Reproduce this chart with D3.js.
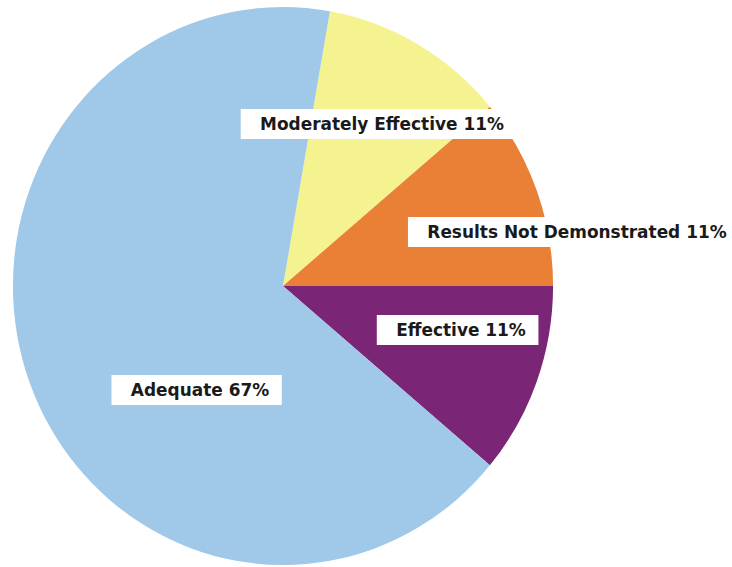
<!DOCTYPE html>
<html>
<head>
<meta charset="utf-8">
<script src="https://cdn.jsdelivr.net/npm/d3@7"></script>
<style>
  body { margin: 0; background: #fff; }
  svg { display: block; }
  .label text { font-family: "DejaVu Sans", Verdana, sans-serif; font-weight: bold; fill: #1a1a1a; }
</style>
</head>
<body>
<svg id="chart" width="732" height="567"></svg>
<script>
// slice order follows the picture, clockwise from just right of 12 o'clock
const categories = ["Moderately Effective", "Results Not Demonstrated", "Effective", "Adequate"];
const values = [1, 1, 1, 6];
const percentLabels = ["11%", "11%", "11%", "67%"];
const colors = ["#f5f290", "#ea8036", "#7b2577", "#a0c8e8"];

const width = 732, height = 567;
const cx = 283, cy = 286;
const radius = 279;
const squash = 0.968; // pie is slightly narrower than tall

// where each label box sits, relative to the pie centre
const labelPos = {
  "Moderately Effective": [99, -162],
  "Results Not Demonstrated": [294, -54],
  "Effective": [178, 44],
  "Adequate": [-83, 104]
};

const svg = d3.select('#chart');

const pie = d3.pie()
  .sort(null)
  .value(d => d.value)
  .startAngle(10 * Math.PI / 180)
  .endAngle(370 * Math.PI / 180);

const arc = d3.arc().innerRadius(0).outerRadius(radius);

const data = categories.map((c, i) => ({name: c, value: values[i], pct: percentLabels[i], color: colors[i]}));

const g = svg.append('g').attr('transform', `translate(${cx},${cy})`);
const pieG = g.append('g').attr('transform', `scale(${squash},1)`);

pieG.selectAll('path')
  .data(pie(data))
  .enter().append('path')
  .attr('d', arc)
  .attr('fill', d => d.data.color);

const labels = g.selectAll('.label')
  .data(data)
  .enter().append('g')
  .attr('class', 'label')
  .attr('transform', d => `translate(${labelPos[d.name][0]},${labelPos[d.name][1]}) scale(${squash},1)`);

labels.each(function(d) {
  const lg = d3.select(this);
  const rect = lg.append('rect').attr('fill', '#fff');
  const t = lg.append('text')
    .attr('text-anchor', 'middle')
    .attr('dy', '0.36em')
    .style('font-size', '17.5px')
    .text(`${d.name} ${d.pct}`);
  const bb = t.node().getBBox();
  rect.attr('x', bb.x - 20)
    .attr('y', -15)
    .attr('width', bb.width + 33)
    .attr('height', 30);
});
</script>
</body>
</html>
